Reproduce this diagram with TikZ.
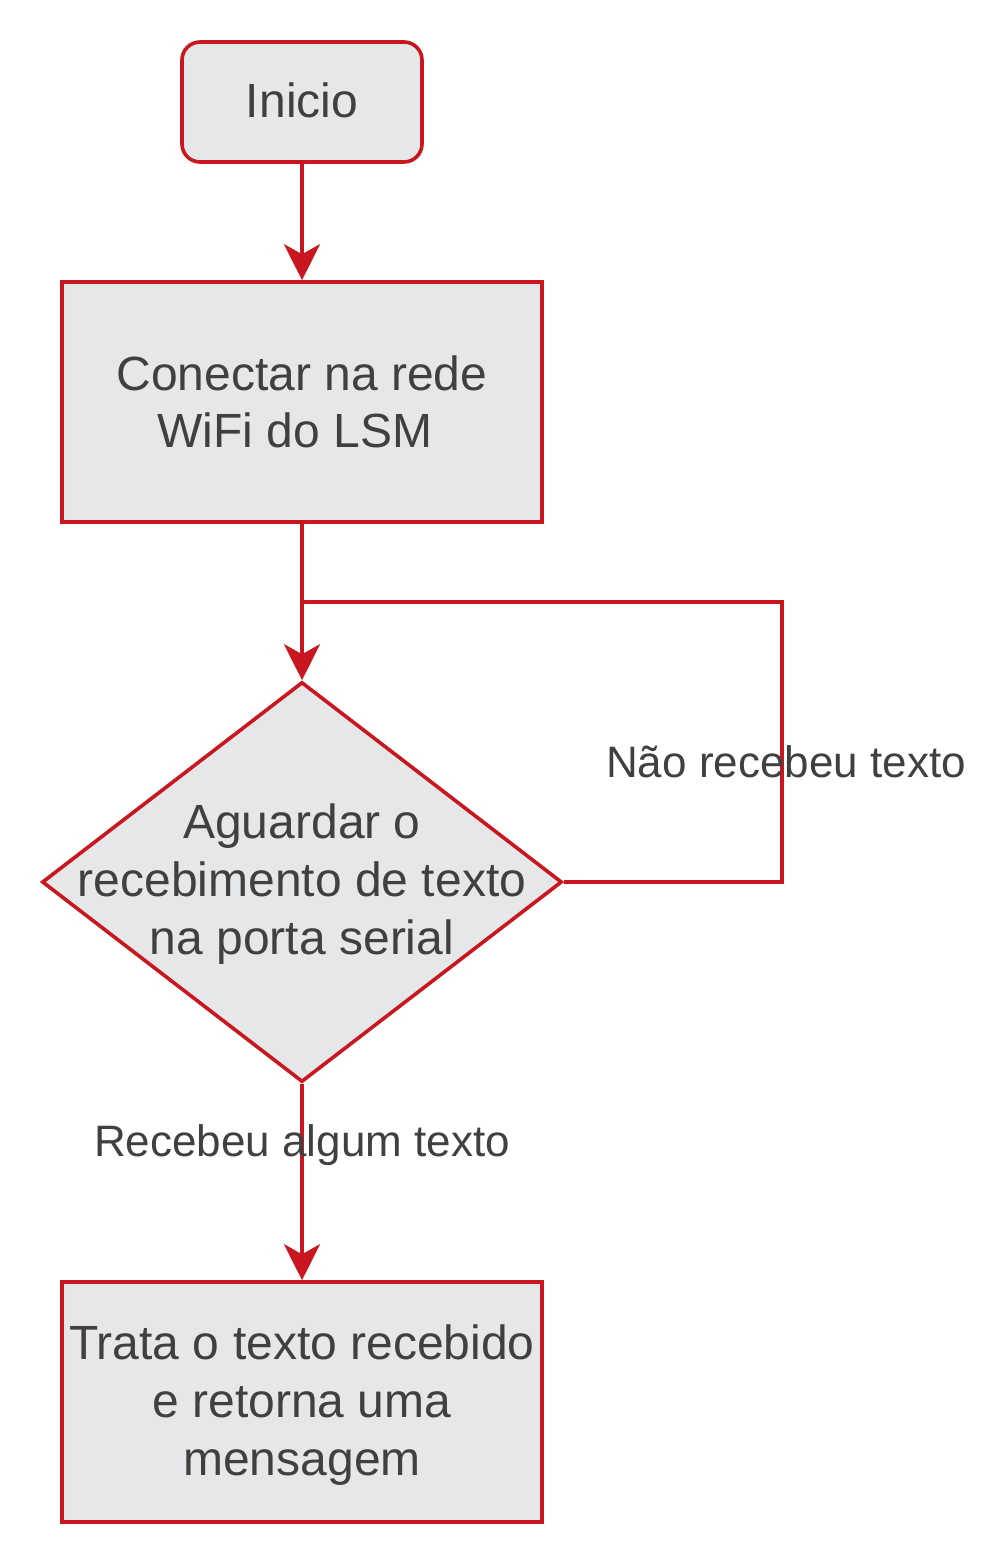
\documentclass[tikz,border=0pt]{standalone}
\usepackage{fontspec}
\setmainfont{Liberation Sans}
\usetikzlibrary{shapes.geometric,arrows.meta}
\definecolor{lred}{HTML}{C8171F}
\definecolor{lfill}{HTML}{E6E7E9}
\definecolor{ltext}{HTML}{404040}
\begin{document}
\begin{tikzpicture}[x=1pt,y=-1pt,
  box/.style={draw=lred,line width=3.6pt,fill=lfill,text=ltext,inner sep=0pt,
    minimum width=480pt,minimum height=240pt,align=center,
    font=\fontsize{48}{57.6}\selectfont},
  startbox/.style={box,rounded corners=18pt,minimum width=240pt,minimum height=120pt},
  decision/.style={box,diamond,aspect=1.3,minimum width=520pt,minimum height=400pt},
  conn/.style={draw=lred,line width=3.6pt,-{Stealth[length=36pt,width=36pt,inset=10pt]}},
  line/.style={draw=lred,line width=3.6pt},
  txt/.style={text=ltext,align=center,font=\fontsize{48}{57.6}\selectfont,inner sep=0pt},
  lbl/.style={text=ltext,font=\fontsize{44}{52.8}\selectfont,inner sep=0pt}]
\useasboundingbox (0,0) rectangle (1008,1568);
\node[startbox] (start) at (302,102) {};
\node[txt] (startt) at (302,100) {Inicio};
\node[box] (wifi) at (302,402) {Conectar na rede\\WiFi do LSM\hspace*{14pt}};
\node[decision] (wait) at (302,882) {};
\node[txt] (waitt) at (302,884) {Aguardar o\\recebimento de texto\\na porta serial};
\node[box] (treat) at (302,1402) {};
\node[txt] (treatt) at (302,1405) {Trata o texto recebido\\e retorna uma\\mensagem};
\coordinate (j) at (302,602);
\coordinate (c1) at (782,882);
\coordinate (c2) at (782,602);
\draw[conn] (start.south) -- (wifi.north);
\draw[conn] (wifi.south) -- (wait.north);
\draw[line] (wait.east) -- (c1) -- (c2) -- (j);
\draw[conn] (wait.south) -- (treat.north);
\node[lbl] (l1) at (786,762) {Não recebeu texto};
\node[lbl] (l2) at (302,1145) {Recebeu algum texto};
\end{tikzpicture}
\end{document}
